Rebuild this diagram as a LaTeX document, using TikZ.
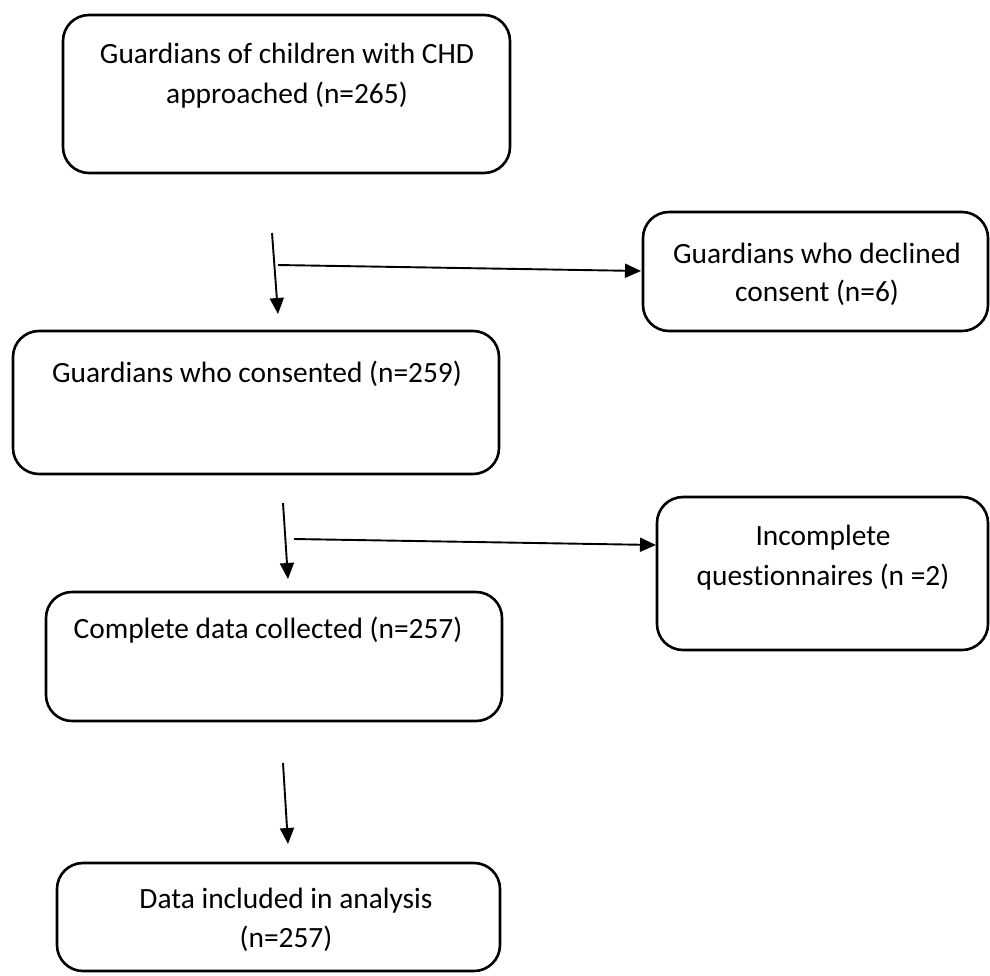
\documentclass[tikz,border=0pt]{standalone}
\usepackage{fontspec}
\setmainfont{Carlito}[Ligatures=NoCommon]
\usetikzlibrary{arrows.meta}
\begin{document}
\begin{tikzpicture}[x=1pt,y=-1pt,
  box/.style={draw=black,line width=2.6pt,rounded corners=26pt},
  txt/.style={anchor=base,inner sep=0pt,font=\fontsize{29.4}{38}\selectfont},
  arr/.style={line width=1.9pt,-{Triangle[length=16pt,width=14pt]}}]
\useasboundingbox (0,0) rectangle (990,975);
% boxes
\draw[box] (63,15) rectangle (510,173) node[pos=0.5,inner sep=0pt] (A) {};
\draw[box] (643,212) rectangle (988,331) node[pos=0.5,inner sep=0pt] (B) {};
\draw[box] (13,331) rectangle (499,474) node[pos=0.5,inner sep=0pt] (C) {};
\draw[box] (657,497) rectangle (988,650) node[pos=0.5,inner sep=0pt] (D) {};
\draw[box] (46,592) rectangle (502,721) node[pos=0.5,inner sep=0pt] (E) {};
\draw[box] (57,863) rectangle (500,971) node[pos=0.5,inner sep=0pt] (F) {};
% texts
\node[txt] (A1) at (287,63) {Guardians of children with CHD};
\node[txt] (A2) at (287,103) {approached (n=265)};
\node[txt] (B1) at (817,263) {Guardians who declined};
\node[txt] (B2) at (817,301) {consent (n=6)};
\node[txt] (C1) at (257,382) {Guardians who consented (n=259)};
\node[txt] (D1) at (823,545) {Incomplete};
\node[txt] (D2) at (823,585) {questionnaires (n =2)};
\node[txt] (E1) at (268,638) {Complete data collected (n=257)};
\node[txt] (F1) at (286,908) {Data included in analysis};
\node[txt] (F2) at (286,947) {(n=257)};
% arrow end points
\coordinate (a1s) at (272,233); \coordinate (a1e) at (278,314);
\coordinate (h1s) at (278,265); \coordinate (h1e) at (641,271);
\coordinate (a2s) at (283,503); \coordinate (a2e) at (288,579);
\coordinate (h2s) at (294,539); \coordinate (h2e) at (656,545);
\coordinate (a3s) at (283,763); \coordinate (a3e) at (288,844);
\draw[arr] (a1s) -- (a1e);
\draw[arr] (h1s) -- (h1e);
\draw[arr] (a2s) -- (a2e);
\draw[arr] (h2s) -- (h2e);
\draw[arr] (a3s) -- (a3e);
\end{tikzpicture}
\end{document}
